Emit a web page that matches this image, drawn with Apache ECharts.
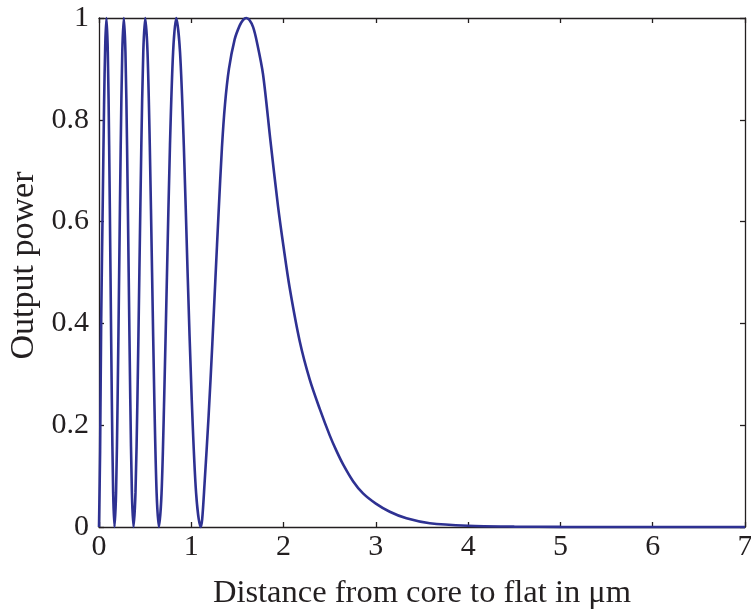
<!DOCTYPE html>
<html>
<head>
<meta charset="utf-8">
<script src="https://cdn.jsdelivr.net/npm/echarts@6/dist/echarts.min.js"></script>
<style>html,body{margin:0;padding:0;background:#fff;overflow:hidden;}#c{width:751px;height:611px;}</style>
</head>
<body>
<div id="c"></div>
<script>
// Distance from core to flat (µm)
var distance = [
  0, 0.012, 0.024, 0.041, 0.055, 0.068, 0.081, 0.0955, 0.110, 0.1245, 0.139, 0.1535, 0.168,
  0.1848, 0.2017, 0.2185, 0.2353, 0.2522, 0.269, 0.2865, 0.304, 0.3215, 0.339, 0.3565, 0.374,
  0.3952, 0.4163, 0.4375, 0.4587, 0.4798, 0.501, 0.5257, 0.5503, 0.575, 0.5997, 0.6243, 0.649,
  0.678, 0.706, 0.737, 0.769, 0.803, 0.837, 0.878, 0.919, 0.960, 1.005, 1.052, 1.101,
  1.118, 1.144, 1.188, 1.228, 1.262, 1.296, 1.332, 1.365, 1.408, 1.470, 1.524, 1.560, 1.596,
  1.630, 1.670, 1.712, 1.777, 1.857, 1.940, 2.000, 2.066, 2.175, 2.283, 2.392, 2.500, 2.572, 2.645,
  2.753, 2.861, 3.000, 3.151, 3.332, 3.585, 4.000, 4.500, 5.000, 6.000, 7.000
];
// Output power
var power = [
  0, 0.15, 0.41, 0.643, 0.83, 0.95, 1, 0.933, 0.75, 0.5, 0.25, 0.067, 0,
  0.067, 0.25, 0.5, 0.75, 0.933, 1, 0.933, 0.75, 0.5, 0.25, 0.067, 0,
  0.067, 0.25, 0.5, 0.75, 0.933, 1, 0.933, 0.75, 0.5, 0.25, 0.067, 0,
  0.067, 0.25, 0.5, 0.75, 0.933, 1, 0.933, 0.75, 0.5, 0.25, 0.067, 0,
  0.015, 0.086, 0.219, 0.36, 0.49, 0.618, 0.745, 0.83, 0.90, 0.958, 0.985, 0.996, 1,
  0.996, 0.982, 0.952, 0.89, 0.76, 0.63, 0.55, 0.47, 0.365, 0.29, 0.232, 0.18, 0.150, 0.123,
  0.090, 0.066, 0.046, 0.030, 0.017, 0.0073, 0.0025, 0.0008, 0.0002, 0, 0
];
var xTicks = [0, 1, 2, 3, 4, 5, 6, 7];
var yTicks = [0, 0.2, 0.4, 0.6, 0.8, 1];

var data = distance.map(function (d, i) { return [d, power[i]]; });
var font = "'Liberation Serif', 'Times New Roman', serif";
var black = '#231f20';

var chart = echarts.init(document.getElementById('c'), null, {renderer: 'canvas'});
var baseX = {
  type: 'value', min: xTicks[0], max: xTicks[xTicks.length - 1], interval: 1,
  axisLine: {show: true, onZero: false, lineStyle: {color: black, width: 1.3}},
  axisTick: {show: true, inside: true, length: 5, lineStyle: {color: black, width: 1.3}},
  splitLine: {show: false}
};
var baseY = {
  type: 'value', min: yTicks[0], max: yTicks[yTicks.length - 1], interval: 0.2,
  axisLine: {show: true, onZero: false, lineStyle: {color: black, width: 1.3}},
  axisTick: {show: true, inside: true, length: 5, lineStyle: {color: black, width: 1.3}},
  splitLine: {show: false}
};
chart.setOption({
  animation: false,
  backgroundColor: '#ffffff',
  grid: {left: 99, right: 6, top: 18, bottom: 84, containLabel: false, outerBoundsMode: 'none'},
  xAxis: [
    Object.assign({}, baseX, {
      position: 'bottom',
      name: 'Distance from core to flat in μm', nameLocation: 'middle', nameGap: 50,
      nameTextStyle: {fontFamily: font, fontSize: 32.5, color: black},
      axisLabel: {show: true, margin: 5, fontFamily: font, fontSize: 30, color: black}
    }),
    Object.assign({}, baseX, {position: 'top', axisLabel: {show: false}})
  ],
  yAxis: [
    Object.assign({}, baseY, {
      position: 'left',
      name: 'Output power', nameLocation: 'middle', nameGap: 57,
      nameTextStyle: {fontFamily: font, fontSize: 34, color: black, padding: [0, 0, 0, 14]},
      axisLabel: {show: true, margin: 10, fontFamily: font, fontSize: 30, color: black}
    }),
    Object.assign({}, baseY, {position: 'right', axisLabel: {show: false}})
  ],
  series: [{
    type: 'line',
    data: data,
    showSymbol: false,
    smooth: 0.3,
    clip: false,
    lineStyle: {color: '#2e3192', width: 2.6},
    z: 5
  }]
});
</script>
</body>
</html>
